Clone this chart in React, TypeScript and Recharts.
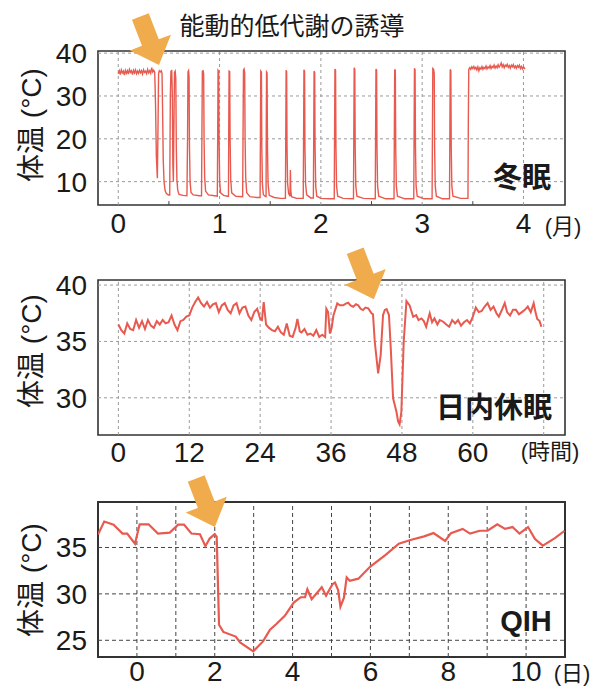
import React from "react";
import {
  LineChart,
  Line,
  XAxis,
  YAxis,
  ReferenceLine,
  ReferenceArea,
  ReferenceDot,
} from "recharts";

const FONT = '"Liberation Sans", Arial, "Noto Sans CJK JP", sans-serif';
const RED = "#E85A4F";
const ORANGE = "#F0AC4C";

// 冬眠: months vs body temperature
const hibernationTrace: [number, number][] = [
  [0.0, 35.2], [0.01, 35.9], [0.02, 35.0], [0.03, 36.1], [0.04, 35.4], [0.05, 35.8], [0.06, 34.9], [0.07, 36.0],
  [0.08, 35.3], [0.09, 35.9], [0.1, 35.1], [0.11, 36.2], [0.12, 35.5], [0.13, 35.9], [0.14, 35.0], [0.15, 36.0],
  [0.16, 35.4], [0.17, 36.1], [0.18, 35.2], [0.19, 35.8], [0.2, 35.3], [0.21, 36.0], [0.22, 35.4], [0.23, 35.9],
  [0.24, 35.1], [0.25, 36.1], [0.26, 35.5], [0.27, 35.8], [0.28, 35.2], [0.29, 36.2], [0.3, 35.4], [0.31, 35.9],
  [0.32, 35.3], [0.33, 36.6], [0.34, 35.6], [0.35, 36.0], [0.36, 35.5],
  [0.368, 28], [0.376, 16], [0.386, 10.8], [0.392, 22], [0.398, 35.2], [0.405, 35.9], [0.415, 35.6], [0.425, 35.9],
  [0.432, 35.2], [0.438, 26], [0.444, 15], [0.452, 10], [0.462, 8], [0.475, 7.2], [0.495, 6.9], [0.508, 6.9],
  [0.514, 30], [0.52, 35.8], [0.528, 35.9], [0.534, 30], [0.539, 14], [0.544, 10], [0.549, 22], [0.555, 35.5],
  [0.562, 35.8], [0.568, 34], [0.573, 18], [0.579, 10.5], [0.587, 8], [0.6, 7.0], [0.64, 6.8], [0.678, 6.7],
  [0.684, 20], [0.688, 35.6], [0.694, 35.9], [0.699, 34.5], [0.703, 18], [0.709, 10], [0.718, 7.5], [0.74, 6.9],
  [0.8, 6.7], [0.822, 6.7],
  [0.826, 22], [0.83, 35.8], [0.838, 35.9], [0.843, 35.2], [0.847, 20], [0.853, 11], [0.862, 7.8], [0.89, 6.9],
  [0.95, 6.7], [0.978, 6.6],
  [0.982, 22], [0.985, 36.0], [0.991, 35.8], [0.995, 20], [1.001, 10], [1.01, 7.4], [1.04, 6.8], [1.08, 6.6], [1.088, 6.6],
  [1.091, 24], [1.094, 35.8], [1.1, 35.7], [1.104, 20], [1.11, 10.5], [1.12, 7.4], [1.16, 6.6], [1.228, 6.5],
  [1.232, 22], [1.236, 36.0], [1.242, 36.3], [1.248, 35.4], [1.252, 20], [1.258, 11], [1.268, 7.4], [1.3, 6.5],
  [1.37, 6.3], [1.4, 6.3],
  [1.404, 24], [1.407, 35.8], [1.413, 35.6], [1.417, 18], [1.423, 9.5], [1.432, 7.0], [1.452, 6.5], [1.459, 6.5],
  [1.461, 22], [1.464, 35.6], [1.469, 35.4], [1.473, 18], [1.479, 9.5], [1.49, 6.8], [1.54, 6.3], [1.6, 6.1], [1.65, 6.1],
  [1.654, 22], [1.657, 36.0], [1.662, 35.7], [1.666, 18], [1.672, 9.5], [1.682, 7.2], [1.695, 6.6], [1.699, 12.7],
  [1.703, 8], [1.71, 6.5], [1.76, 6.1], [1.826, 6.1],
  [1.83, 22], [1.833, 36.1], [1.839, 35.8], [1.843, 18], [1.849, 9.5], [1.86, 6.9], [1.9, 6.2], [1.926, 6.2],
  [1.93, 22], [1.933, 35.8], [1.939, 35.5], [1.943, 18], [1.949, 9], [1.96, 6.6], [2.0, 6.1], [2.08, 6.0], [2.132, 6.0],
  [2.136, 24], [2.139, 36.3], [2.145, 36.0], [2.149, 18], [2.155, 9], [2.166, 6.6], [2.22, 6.1], [2.322, 6.0],
  [2.326, 24], [2.329, 36.6], [2.335, 36.2], [2.339, 18], [2.345, 9], [2.356, 6.6], [2.42, 6.1], [2.537, 6.0],
  [2.541, 24], [2.544, 36.3], [2.55, 36.0], [2.554, 18], [2.56, 9], [2.571, 6.6], [2.64, 6.0], [2.722, 6.0],
  [2.726, 24], [2.729, 36.2], [2.735, 35.9], [2.739, 18], [2.745, 9], [2.756, 6.6], [2.83, 6.0], [2.917, 6.0],
  [2.921, 24], [2.924, 36.5], [2.93, 36.1], [2.934, 18], [2.94, 9], [2.951, 6.6], [3.02, 6.0], [3.098, 6.0],
  [3.102, 24], [3.105, 36.4], [3.113, 36.2], [3.119, 35.3], [3.123, 18], [3.129, 9], [3.14, 6.6], [3.2, 6.0], [3.27, 6.0],
  [3.274, 24], [3.277, 36.2], [3.283, 35.9], [3.287, 18], [3.293, 9], [3.304, 6.6], [3.38, 6.1], [3.452, 6.1],
  [3.456, 25], [3.46, 36.2], [3.47, 36.6], [3.48, 36.2], [3.49, 36.8], [3.5, 36.4], [3.51, 36.9], [3.52, 36.3],
  [3.53, 36.7], [3.54, 36.1], [3.55, 36.8], [3.56, 35.9], [3.57, 36.6], [3.58, 36.3], [3.59, 36.9], [3.6, 36.2],
  [3.61, 36.7], [3.62, 36.4], [3.63, 37.0], [3.64, 36.3], [3.65, 36.8], [3.66, 36.5], [3.67, 37.1], [3.68, 36.4],
  [3.69, 36.9], [3.7, 36.6], [3.71, 37.2], [3.72, 36.5], [3.73, 37.0], [3.74, 36.6], [3.75, 37.3], [3.76, 36.7],
  [3.77, 37.1], [3.78, 37.7], [3.79, 36.8], [3.8, 37.3], [3.81, 36.6], [3.82, 37.2], [3.83, 36.9], [3.84, 37.4],
  [3.85, 36.7], [3.86, 37.1], [3.87, 36.5], [3.88, 37.2], [3.89, 36.8], [3.9, 37.3], [3.91, 36.6], [3.92, 37.0],
  [3.93, 36.5], [3.94, 37.1], [3.95, 36.7], [3.96, 37.2], [3.97, 36.4], [3.98, 36.9], [3.99, 36.3], [4.0, 36.8],
  [4.015, 36.3],
];

// 日内休眠: hours vs body temperature
const torporTrace: [number, number][] = [
  [0, 36.5], [0.5, 36.0], [1, 35.7], [1.5, 36.6], [2, 36.1], [2.5, 36.0], [3, 36.9], [3.5, 36.2], [4, 36.8],
  [4.5, 36.1], [5, 36.9], [5.5, 36.4], [6, 36.2], [6.5, 36.8], [7, 36.5], [7.5, 36.9], [8, 36.6], [8.5, 36.7],
  [9, 37.3], [9.5, 36.5], [10, 36.0], [10.5, 36.8], [11, 36.9], [11.5, 37.2], [12, 37.3], [12.5, 38.0], [13, 38.5],
  [13.5, 38.9], [14, 38.4], [14.5, 38.1], [15, 38.5], [15.5, 38.0], [16, 38.3], [16.5, 38.4], [17, 37.6],
  [17.5, 38.2], [18, 38.4], [18.5, 37.8], [19, 37.5], [19.5, 38.2], [20, 38.4], [20.5, 37.5], [21, 38.0],
  [21.5, 38.1], [22, 37.3], [22.5, 36.9], [23, 37.6], [23.5, 37.9], [24, 37.0], [24.3, 36.9], [24.6, 38.5],
  [25, 36.5], [25.5, 36.2], [26, 36.0], [26.5, 35.9], [27, 36.3], [27.5, 35.8], [28, 35.6], [28.5, 36.6],
  [29, 35.5], [29.5, 35.4], [30, 36.2], [30.3, 37.0], [30.7, 35.9], [31, 35.8], [31.5, 36.1], [32, 35.6],
  [32.5, 35.7], [33, 35.5], [33.5, 36.0], [34, 35.4], [34.5, 35.6], [35, 35.4], [35.2, 37.9], [35.5, 37.6],
  [35.8, 35.7], [36.1, 36.2], [36.4, 37.3], [37.05, 38.37], [37.5, 38.2], [38.06, 38.2], [38.5, 38.35],
  [38.9, 38.43], [39.3, 38.2], [39.75, 38.08], [40.2, 38.3], [40.6, 38.2], [41.0, 37.9], [41.4, 37.78],
  [41.8, 38.0], [42.3, 37.93], [42.85, 37.49], [43.1, 37.4], [43.4, 34.97], [43.97, 32.16], [44.4, 33.79],
  [44.8, 37.34], [45.1, 37.8], [45.4, 37.87], [45.8, 37.34], [46.1, 34.5], [46.5, 29.95], [47.07, 28.76],
  [47.35, 27.9], [47.6, 27.64], [47.9, 28.76], [48.3, 34.97], [48.76, 38.58], [49.3, 38.2], [49.9, 37.19],
  [50.4, 37.34], [50.8, 36.9], [51.3, 37.04], [51.7, 36.8], [52.1, 36.3], [52.7, 37.49], [53.1, 36.7],
  [53.5, 37.04], [54.0, 36.5], [54.4, 36.9], [55, 36.75], [55.5, 36.5], [56, 36.3], [56.5, 36.9], [57, 36.6],
  [57.5, 36.9], [58, 36.4], [58.5, 36.7], [59, 36.9], [59.5, 36.6], [60, 37.2], [60.5, 38.0], [61, 37.6],
  [61.5, 37.7], [62, 38.1], [62.5, 38.4], [63, 37.8], [63.5, 38.1], [64, 37.5], [64.4, 37.2], [65, 37.9],
  [65.4, 38.4], [65.8, 37.6], [66.3, 37.3], [66.8, 37.8], [67.3, 37.8], [67.8, 37.4], [68.3, 37.6], [68.8, 37.8],
  [69.3, 38.1], [69.8, 37.6], [70.3, 38.4], [70.6, 37.6], [70.9, 37.0], [71.3, 36.8], [71.6, 36.3],
];

// QIH: days vs body temperature
const qihTrace: [number, number][] = [
  [-1.0, 36.4], [-0.84, 37.8], [-0.6, 37.45], [-0.37, 36.5], [-0.25, 36.5], [-0.05, 35.4], [0.07, 37.5],
  [0.3, 37.5], [0.54, 36.5], [0.845, 36.6], [1.06, 37.46], [1.21, 37.46], [1.4, 36.5], [1.62, 36.43],
  [1.76, 35.14], [1.87, 35.96], [2.0, 36.43], [2.05, 36.14], [2.11, 26.67], [2.22, 25.9], [2.54, 25.4],
  [2.65, 24.78], [2.99, 23.81], [3.24, 24.88], [3.42, 26.14], [3.59, 26.78], [3.8, 27.64], [4.03, 29.06],
  [4.21, 29.64], [4.32, 29.64], [4.38, 30.5], [4.49, 29.43], [4.75, 30.71], [4.86, 29.81], [5.03, 31.07],
  [5.09, 31.21], [5.17, 30.42], [5.23, 28.63], [5.32, 29.6], [5.39, 31.78], [5.47, 31.42], [5.69, 31.64],
  [5.99, 32.92], [6.39, 34.2], [6.73, 35.4], [7.03, 35.8], [7.38, 36.2], [7.62, 36.55], [7.92, 35.7],
  [8.07, 36.55], [8.37, 37.0], [8.56, 36.5], [8.81, 36.8], [9.01, 36.8], [9.26, 37.5], [9.46, 37.0],
  [9.65, 37.2], [9.83, 36.5], [10.05, 37.2], [10.23, 35.9], [10.43, 35.2], [10.74, 36.0], [10.99, 36.8],
];

const hibernationXTicks = [0, 1, 2, 3, 4];
const hibernationYTicks = [10, 20, 30, 40];
const hibernationMinorTicks = [0.5, 1.5, 2.5, 3.5];
const torporXTicks = [0, 12, 24, 36, 48, 60];
const torporXGrid = [0, 12, 24, 36, 48, 60, 72];
const torporYTicks = [30, 35, 40];
const qihXTicks = [0, 2, 4, 6, 8, 10];
const qihXGrid = [0, 1, 2, 3, 4, 5, 6, 7, 8, 9, 10];
const qihYTicks = [25, 30, 35];

const toRows = (trace: [number, number][]) => trace.map(([x, t]) => ({ x, t }));

function Arrow(props: any) {
  const { cx, cy } = props;
  if (cx == null || cy == null) return null;
  return (
    <polygon
      points="0,0 -22,-24 -9,-24 -9,-52 9,-52 9,-24 22,-24"
      transform={`translate(${cx},${cy}) rotate(-21)`}
      fill={ORANGE}
    />
  );
}

type PanelProps = {
  top: number;
  height: number;
  marginTop: number;
  axisHeight: number;
  tickGap: number;
  trace: [number, number][];
  xDomain: [number, number];
  yDomain: [number, number];
  xTicks: number[];
  yTicks: number[];
  xGrid: number[];
  gridColor: string;
  dash: string;
  lineWidth: number;
  borderWidth: number;
  arrowAt: [number, number];
  minorTicks?: number[];
};

function Panel(p: PanelProps) {
  const [x0, x1] = p.xDomain;
  const [y0, y1] = p.yDomain;
  const tickStyle = { fontSize: 28, fill: "#1a1a1a", fontFamily: FONT };
  return (
    <div style={{ position: "absolute", left: 0, top: p.top }}>
      <LineChart
        width={605}
        height={p.height}
        data={toRows(p.trace)}
        margin={{ top: p.marginTop, right: 40, left: 0, bottom: 0 }}
      >
        <XAxis
          type="number"
          dataKey="x"
          domain={p.xDomain}
          ticks={p.xTicks}
          allowDataOverflow
          axisLine={false}
          tickLine={false}
          tickSize={0}
          tickMargin={p.tickGap}
          height={p.axisHeight}
          tick={tickStyle}
          interval={0}
        />
        <YAxis
          type="number"
          domain={p.yDomain}
          ticks={p.yTicks}
          allowDataOverflow
          axisLine={false}
          tickLine={false}
          tickSize={0}
          tickMargin={11}
          width={98}
          tick={tickStyle}
          interval={0}
        />
        {p.yTicks.map((v) => (
          <ReferenceLine key={`h${v}`} y={v} stroke={p.gridColor} strokeDasharray={p.dash} />
        ))}
        {p.xGrid.map((v) => (
          <ReferenceLine key={`v${v}`} x={v} stroke={p.gridColor} strokeDasharray={p.dash} />
        ))}
        {(p.minorTicks || []).map((v) => (
          <ReferenceLine
            key={`m${v}`}
            segment={[
              { x: v, y: y0 },
              { x: v, y: y0 + (y1 - y0) * 0.025 },
            ]}
            stroke="#444"
          />
        ))}
        <Line
          type="linear"
          dataKey="t"
          stroke={RED}
          strokeWidth={p.lineWidth}
          dot={false}
          activeDot={false}
          isAnimationActive={false}
        />
        <ReferenceArea
          x1={x0}
          x2={x1}
          y1={y0}
          y2={y1}
          fill="none"
          fillOpacity={0}
          stroke="#333"
          strokeWidth={p.borderWidth}
          ifOverflow="visible"
        />
        <ReferenceDot
          x={p.arrowAt[0]}
          y={p.arrowAt[1]}
          ifOverflow="visible"
          shape={<Arrow />}
        />
      </LineChart>
    </div>
  );
}

function Note({
  text,
  x,
  y,
  size,
  bold,
  rotate,
}: {
  text: string;
  x: number;
  y: number;
  size: number;
  bold?: boolean;
  rotate?: boolean;
}) {
  return (
    <div
      style={{
        position: "absolute",
        left: x,
        top: y,
        transform: `translate(-50%, -50%)${rotate ? " rotate(-90deg)" : ""}`,
        fontSize: size,
        fontWeight: bold ? 700 : 400,
        lineHeight: 1,
        whiteSpace: "nowrap",
        color: "#1a1a1a",
        fontFamily: FONT,
      }}
    >
      {text}
    </div>
  );
}

export default function App() {
  return (
    <div
      style={{
        position: "absolute",
        left: 0,
        top: 0,
        width: 605,
        height: 688,
        overflow: "hidden",
        background: "#fff",
        fontFamily: FONT,
      }}
    >
      <Panel
        top={0}
        height={240}
        marginTop={51}
        axisHeight={35}
        tickGap={8}
        trace={hibernationTrace}
        xDomain={[-0.2, 4.41]}
        yDomain={[4.55, 40.5]}
        xTicks={hibernationXTicks}
        yTicks={hibernationYTicks}
        xGrid={hibernationXTicks}
        gridColor="#9a9a9a"
        dash="3 3"
        lineWidth={1.4}
        borderWidth={1.6}
        arrowAt={[0.402, 37.24]}
        minorTicks={hibernationMinorTicks}
      />
      <Panel
        top={240}
        height={230}
        marginTop={40}
        axisHeight={35}
        tickGap={7}
        trace={torporTrace}
        xDomain={[-3.45, 75.6]}
        yDomain={[26.7, 40.45]}
        xTicks={torporXTicks}
        yTicks={torporYTicks}
        xGrid={torporXGrid}
        gridColor="#9a9a9a"
        dash="3 3"
        lineWidth={2}
        borderWidth={1.6}
        arrowAt={[43.24, 38.74]}
      />
      <Panel
        top={470}
        height={218}
        marginTop={32}
        axisHeight={31}
        tickGap={4}
        trace={qihTrace}
        xDomain={[-1, 11]}
        yDomain={[23.2, 39.9]}
        xTicks={qihXTicks}
        yTicks={qihYTicks}
        xGrid={qihXGrid}
        gridColor="#444"
        dash="4 3"
        lineWidth={2.2}
        borderWidth={2}
        arrowAt={[2.003, 37.2]}
      />

      <Note text="能動的低代謝の誘導" x={292} y={26} size={25} />
      <Note text="体温 (°C)" x={32} y={125} size={28} rotate />
      <Note text="体温 (°C)" x={32} y={351} size={28} rotate />
      <Note text="体温 (°C)" x={32} y={580} size={28} rotate />
      <Note text="冬眠" x={522} y={178} size={29} bold />
      <Note text="日内休眠" x={494} y={408} size={29} bold />
      <Note text="QIH" x={526} y={621} size={29} bold />
      <Note text="(月)" x={563} y={227} size={22} />
      <Note text="(時間)" x={550} y={452} size={22} />
      <Note text="(日)" x={572} y={674} size={22} />
    </div>
  );
}
